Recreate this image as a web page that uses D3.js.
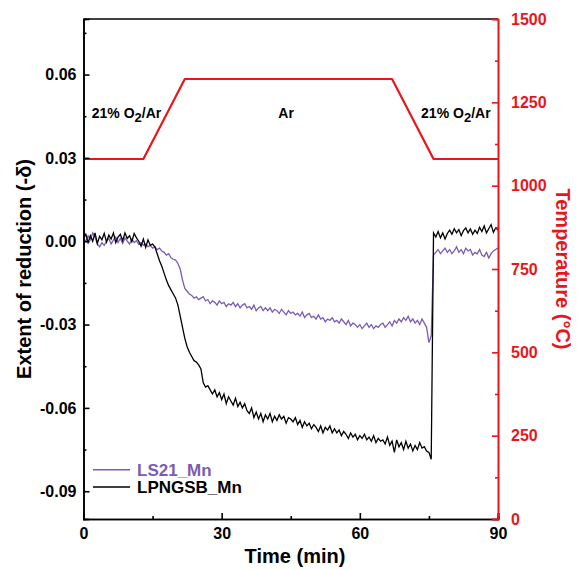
<!DOCTYPE html>
<html>
<head>
<meta charset="utf-8">
<script src="https://cdn.jsdelivr.net/npm/d3@7"></script>
<style>
  body { margin: 0; background: #fff; }
  svg text { font-family: "Liberation Sans", Arial, sans-serif; }
</style>
</head>
<body>
<div id="chart"></div>
<script>
// time grid for the TGA traces (min), 0.5 min step
const time = d3.range(0, 90.25, 0.5);

// extent of reduction, LPNGSB_Mn (one row = 5 min)
const lpngsb = [
  0.0010, 0.0025, -0.0005, 0.0020, 0.0000, 0.0030, -0.0008, 0.0018, 0.0005, 0.0028,
  -0.0003, 0.0022, 0.0008, 0.0030, -0.0005, 0.0015, 0.0025, 0.0002, 0.0030, 0.0010,
  0.0020, -0.0002, 0.0028, 0.0012, 0.0000, -0.0018, 0.0008, -0.0022, 0.0005, -0.0015,
  -0.0010, -0.0020, -0.0045, -0.0070, -0.0090, -0.0115, -0.0140, -0.0160, -0.0175, -0.0190,
  -0.0205, -0.0230, -0.0270, -0.0310, -0.0350, -0.0380, -0.0400, -0.0415, -0.0430, -0.0435,
  -0.0445, -0.0460, -0.0510, -0.0525, -0.0520, -0.0535, -0.0550, -0.0535, -0.0560, -0.0545,
  -0.0570, -0.0550, -0.0585, -0.0560, -0.0575, -0.0590, -0.0565, -0.0595, -0.0580, -0.0600,
  -0.0585, -0.0610, -0.0620, -0.0600, -0.0635, -0.0615, -0.0640, -0.0620, -0.0650, -0.0625,
  -0.0640, -0.0620, -0.0650, -0.0630, -0.0645, -0.0625, -0.0640, -0.0630, -0.0655, -0.0635,
  -0.0640, -0.0650, -0.0635, -0.0660, -0.0645, -0.0670, -0.0650, -0.0665, -0.0655, -0.0675,
  -0.0660, -0.0670, -0.0685, -0.0665, -0.0690, -0.0670, -0.0680, -0.0665, -0.0690, -0.0675,
  -0.0690, -0.0680, -0.0700, -0.0685, -0.0695, -0.0710, -0.0690, -0.0705, -0.0695, -0.0715,
  -0.0700, -0.0710, -0.0695, -0.0715, -0.0705, -0.0720, -0.0700, -0.0725, -0.0710, -0.0720,
  -0.0715, -0.0730, -0.0705, -0.0735, -0.0720, -0.0760, -0.0715, -0.0740, -0.0725, -0.0750,
  -0.0720, -0.0745, -0.0730, -0.0755, -0.0735, -0.0750, -0.0725, -0.0745, -0.0740, -0.0755,
  -0.0760, -0.0785, 0.0030, 0.0015, 0.0035, 0.0012, 0.0030, 0.0008, 0.0028, 0.0040,
  0.0025, 0.0045, 0.0030, 0.0042, 0.0020, 0.0038, 0.0048, 0.0030, 0.0044, 0.0025,
  0.0040, 0.0028, 0.0050, 0.0035, 0.0055, 0.0030, 0.0045, 0.0060, 0.0032, 0.0048,
  0.0040
];

// extent of reduction, LS21_Mn
const ls21 = [
  0.0010, 0.0000, 0.0020, 0.0005, 0.0030, 0.0015, -0.0010, -0.0020, -0.0005, -0.0015,
  0.0000, 0.0010, -0.0010, 0.0005, 0.0015, -0.0005, 0.0010, -0.0008, 0.0012, 0.0000,
  -0.0010, 0.0008, -0.0005, 0.0002, -0.0012, -0.0005, -0.0015, -0.0010, -0.0020, -0.0015,
  -0.0025, -0.0020, -0.0030, -0.0025, -0.0035, -0.0040, -0.0050, -0.0045, -0.0060, -0.0065,
  -0.0068, -0.0080, -0.0100, -0.0140, -0.0170, -0.0180, -0.0190, -0.0195, -0.0205, -0.0200,
  -0.0210, -0.0205, -0.0200, -0.0215, -0.0210, -0.0225, -0.0215, -0.0220, -0.0230, -0.0215,
  -0.0225, -0.0220, -0.0235, -0.0225, -0.0230, -0.0220, -0.0235, -0.0225, -0.0240, -0.0230,
  -0.0225, -0.0240, -0.0235, -0.0245, -0.0230, -0.0250, -0.0240, -0.0235, -0.0250, -0.0240,
  -0.0250, -0.0240, -0.0255, -0.0245, -0.0250, -0.0260, -0.0245, -0.0255, -0.0265, -0.0250,
  -0.0260, -0.0255, -0.0265, -0.0260, -0.0270, -0.0255, -0.0275, -0.0265, -0.0260, -0.0275,
  -0.0270, -0.0280, -0.0265, -0.0280, -0.0275, -0.0290, -0.0280, -0.0285, -0.0275, -0.0290,
  -0.0285, -0.0295, -0.0280, -0.0290, -0.0300, -0.0285, -0.0305, -0.0295, -0.0300, -0.0310,
  -0.0300, -0.0315, -0.0305, -0.0295, -0.0310, -0.0300, -0.0315, -0.0305, -0.0310, -0.0300,
  -0.0295, -0.0310, -0.0300, -0.0290, -0.0305, -0.0285, -0.0295, -0.0280, -0.0290, -0.0275,
  -0.0285, -0.0270, -0.0290, -0.0280, -0.0295, -0.0285, -0.0300, -0.0280, -0.0295, -0.0310,
  -0.0365, -0.0340, -0.0050, -0.0040, -0.0030, -0.0045, -0.0035, -0.0025, -0.0040, -0.0030,
  -0.0045, -0.0035, -0.0020, -0.0040, -0.0030, -0.0045, -0.0025, -0.0035, -0.0030, -0.0050,
  -0.0040, -0.0045, -0.0030, -0.0050, -0.0055, -0.0040, -0.0060, -0.0045, -0.0035, -0.0030,
  -0.0025
];

// furnace temperature programme (min, °C)
const tempTime = [0, 13, 22, 67, 76, 90];
const tempValue = [1080, 1080, 1320, 1320, 1080, 1080];

// gas atmosphere labels
const gasLabels = [
  { t: 1.8, main: "21% O", sub: "2", tail: "/Ar" },
  { t: 42.3, main: "Ar", sub: "", tail: "" },
  { t: 73.3, main: "21% O", sub: "2", tail: "/Ar" }
];

const xTicks = [0, 30, 60, 90];
const yLeftTicks = [-0.09, -0.06, -0.03, 0.00, 0.03, 0.06];
const yRightTicks = [0, 250, 500, 750, 1000, 1250, 1500];

const W = 577, H = 570;
const margin = { top: 19, right: 79, bottom: 51, left: 83.5 };
const red = "#e8161b", purple = "#7a5cb4";

const svg = d3.select("#chart").append("svg")
  .attr("width", W).attr("height", H);

const x = d3.scaleLinear().domain([0, 90]).range([margin.left, W - margin.right]);
const y = d3.scaleLinear().domain([-0.1, 0.08]).range([H - margin.bottom, margin.top]);
const yT = d3.scaleLinear().domain([0, 1500]).range([H - margin.bottom, margin.top]);

// data lines
const line = d3.line().x((d, i) => x(time[i])).y(d => y(d));
svg.append("path").datum(ls21)
  .attr("fill", "none").attr("stroke", purple).attr("stroke-width", 1.3)
  .attr("d", line);
svg.append("path").datum(lpngsb)
  .attr("fill", "none").attr("stroke", "#000").attr("stroke-width", 1.3)
  .attr("d", line);

svg.append("path").datum(tempValue)
  .attr("fill", "none").attr("stroke", red).attr("stroke-width", 2.2)
  .attr("stroke-linejoin", "round")
  .attr("d", d3.line().x((d, i) => x(tempTime[i])).y(d => yT(d)));

// frame
svg.append("line")
  .attr("x1", x(0)).attr("x2", x(90)).attr("y1", margin.top).attr("y2", margin.top)
  .attr("stroke", "#000").attr("stroke-width", 1.6);

function styleAxis(g, color) {
  g.select(".domain").attr("stroke", color).attr("stroke-width", 1.6);
  g.selectAll(".tick line").attr("stroke", color).attr("stroke-width", 1.6);
  g.selectAll("text")
    .attr("fill", color)
    .style("font-size", "16px").style("font-weight", "bold")
    .style("font-family", "'Liberation Sans', Arial, sans-serif");
}

// minor ticks
svg.append("g").attr("transform", `translate(0,${H - margin.bottom})`)
  .call(d3.axisBottom(x).tickValues([15, 45, 75]).tickSize(-3).tickFormat(""))
  .call(g => styleAxis(g, "#000"));
svg.append("g").attr("transform", `translate(${margin.left},0)`)
  .call(d3.axisLeft(y).tickValues([-0.075, -0.045, -0.015, 0.015, 0.045, 0.075]).tickSize(-3).tickFormat(""))
  .call(g => styleAxis(g, "#000"));
svg.append("g").attr("transform", `translate(${W - margin.right},0)`)
  .call(d3.axisRight(yT).tickValues([125, 375, 625, 875, 1125, 1375]).tickSize(-3).tickFormat(""))
  .call(g => styleAxis(g, red));

// major axes (plain hyphen for negatives, as in the original figure)
const fmtLeft = d => d3.format(".2f")(d).replace("\u2212", "-");
svg.append("g").attr("transform", `translate(0,${H - margin.bottom})`)
  .call(d3.axisBottom(x).tickValues(xTicks).tickSize(-6).tickPadding(9).tickFormat(d3.format("d")))
  .call(g => styleAxis(g, "#000"));
svg.append("g").attr("transform", `translate(${margin.left},0)`)
  .call(d3.axisLeft(y).tickValues(yLeftTicks).tickSize(-6).tickPadding(7).tickFormat(fmtLeft))
  .call(g => styleAxis(g, "#000"));
svg.append("g").attr("transform", `translate(${W - margin.right},0)`)
  .call(d3.axisRight(yT).tickValues(yRightTicks).tickSize(-6).tickPadding(13).tickFormat(d3.format("d")))
  .call(g => styleAxis(g, red));

// axis titles
svg.append("text")
  .attr("transform", `translate(31,${(margin.top + H - margin.bottom) / 2}) rotate(-90)`)
  .attr("text-anchor", "middle")
  .style("font-size", "20px").style("font-weight", "bold")
  .text("Extent of reduction (-δ)");
svg.append("text")
  .attr("transform", `translate(556,${(margin.top + H - margin.bottom) / 2}) rotate(90)`)
  .attr("text-anchor", "middle").attr("fill", red)
  .style("font-size", "20px").style("font-weight", "bold")
  .text("Temperature (°C)");
svg.append("text")
  .attr("x", 295).attr("y", 563)
  .attr("text-anchor", "middle")
  .style("font-size", "20px").style("font-weight", "bold")
  .text("Time (min)");

// gas labels
gasLabels.forEach(l => {
  const t = svg.append("text")
    .attr("x", x(l.t)).attr("y", 118)
    .style("font-size", "14px").style("font-weight", "600");
  t.append("tspan").text(l.main);
  if (l.sub) {
    t.append("tspan").attr("dy", 4).style("font-size", "13px").text(l.sub);
    t.append("tspan").attr("dy", -4).text(l.tail);
  }
});

// legend
const legend = [
  { name: "LS21_Mn", color: purple, yv: -0.0823 },
  { name: "LPNGSB_Mn", color: "#000", yv: -0.0885 }
];
legend.forEach(d => {
  svg.append("line")
    .attr("x1", 93).attr("x2", 130)
    .attr("y1", y(d.yv)).attr("y2", y(d.yv))
    .attr("stroke", d.color).attr("stroke-width", 1.5);
  svg.append("text")
    .attr("x", 137).attr("y", y(d.yv) + 6)
    .attr("fill", d.color)
    .style("font-size", "17px").style("font-weight", "bold")
    .text(d.name);
});
</script>
</body>
</html>
